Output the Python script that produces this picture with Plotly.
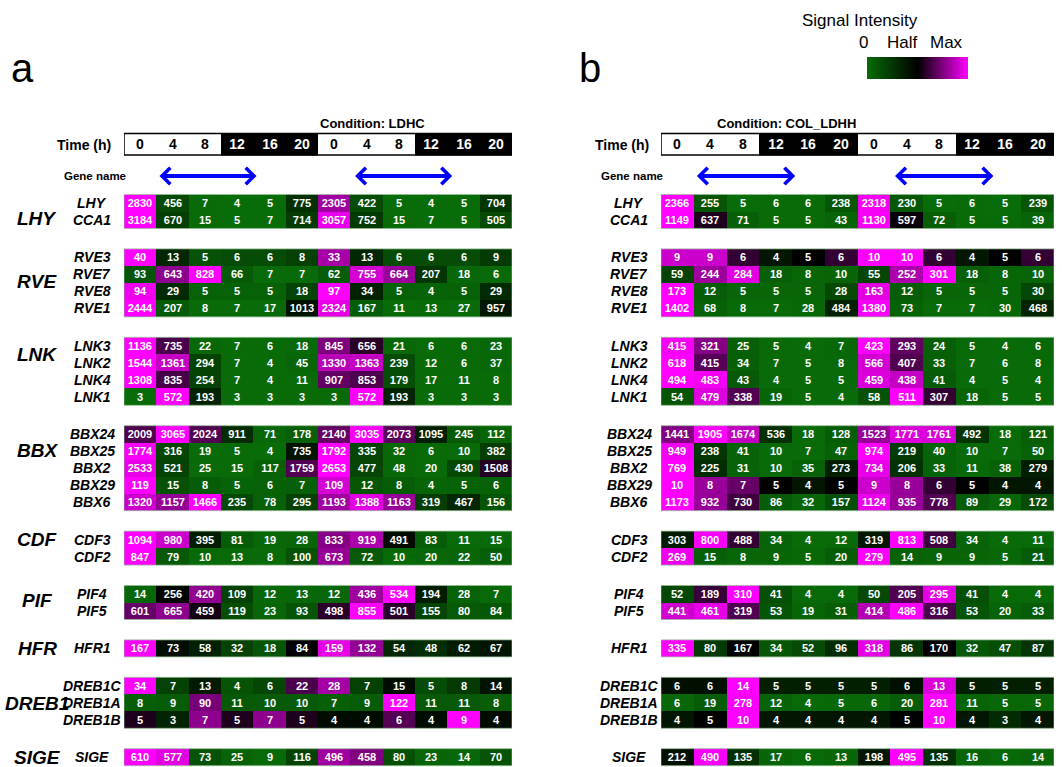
import plotly.graph_objects as go

W, H = 1062, 767
FONT = "Liberation Sans, Arial, Helvetica, sans-serif"

# ---------------- data ----------------
time_labels = ["0", "4", "8", "12", "16", "20", "0", "4", "8", "12", "16", "20"]
dark_phase = [0, 0, 0, 1, 1, 1, 0, 0, 0, 1, 1, 1]

group_names = ["LHY", "RVE", "LNK", "BBX", "CDF", "PIF", "HFR", "DREB1", "SIGE"]

genes_LHY = ["LHY", "CCA1"]
genes_RVE = ["RVE3", "RVE7", "RVE8", "RVE1"]
genes_LNK = ["LNK3", "LNK2", "LNK4", "LNK1"]
genes_BBX = ["BBX24", "BBX25", "BBX2", "BBX29", "BBX6"]
genes_CDF = ["CDF3", "CDF2"]
genes_PIF = ["PIF4", "PIF5"]
genes_HFR = ["HFR1"]
genes_DREB1 = ["DREB1C", "DREB1A", "DREB1B"]
genes_SIGE = ["SIGE"]

# Condition: LDHC (panel a)
ldhc_LHY = [[2830, 456, 7, 4, 5, 775, 2305, 422, 5, 4, 5, 704],
            [3184, 670, 15, 5, 7, 714, 3057, 752, 15, 7, 5, 505]]
ldhc_RVE = [[40, 13, 5, 6, 6, 8, 33, 13, 6, 6, 6, 9],
            [93, 643, 828, 66, 7, 7, 62, 755, 664, 207, 18, 6],
            [94, 29, 5, 5, 5, 18, 97, 34, 5, 4, 5, 29],
            [2444, 207, 8, 7, 17, 1013, 2324, 167, 11, 13, 27, 957]]
ldhc_LNK = [[1136, 735, 22, 7, 6, 18, 845, 656, 21, 6, 6, 23],
            [1544, 1361, 294, 7, 4, 45, 1330, 1363, 239, 12, 6, 37],
            [1308, 835, 254, 7, 4, 11, 907, 853, 179, 17, 11, 8],
            [3, 572, 193, 3, 3, 3, 3, 572, 193, 3, 3, 3]]
ldhc_BBX = [[2009, 3065, 2024, 911, 71, 178, 2140, 3035, 2073, 1095, 245, 112],
            [1774, 316, 19, 5, 4, 735, 1792, 335, 32, 6, 10, 382],
            [2533, 521, 25, 15, 117, 1759, 2653, 477, 48, 20, 430, 1508],
            [119, 15, 8, 5, 6, 7, 109, 12, 8, 4, 5, 6],
            [1320, 1157, 1466, 235, 78, 295, 1193, 1388, 1163, 319, 467, 156]]
ldhc_CDF = [[1094, 980, 395, 81, 19, 28, 833, 919, 491, 83, 11, 15],
            [847, 79, 10, 13, 8, 100, 673, 72, 10, 20, 22, 50]]
ldhc_PIF = [[14, 256, 420, 109, 12, 13, 12, 436, 534, 194, 28, 7],
            [601, 665, 459, 119, 23, 93, 498, 855, 501, 155, 80, 84]]
ldhc_HFR = [[167, 73, 58, 32, 18, 84, 159, 132, 54, 48, 62, 67]]
ldhc_DREB1 = [[34, 7, 13, 4, 6, 22, 28, 7, 15, 5, 8, 14],
              [8, 9, 90, 11, 10, 10, 7, 9, 122, 11, 11, 8],
              [5, 3, 7, 5, 7, 5, 4, 4, 6, 4, 9, 4]]
ldhc_SIGE = [[610, 577, 73, 25, 9, 116, 496, 458, 80, 23, 14, 70]]

# Condition: COL_LDHH (panel b)
colldhh_LHY = [[2366, 255, 5, 6, 6, 238, 2318, 230, 5, 6, 5, 239],
               [1149, 637, 71, 5, 5, 43, 1130, 597, 72, 5, 5, 39]]
colldhh_RVE = [[9, 9, 6, 4, 5, 6, 10, 10, 6, 4, 5, 6],
               [59, 244, 284, 18, 8, 10, 55, 252, 301, 18, 8, 10],
               [173, 12, 5, 5, 5, 28, 163, 12, 5, 5, 5, 30],
               [1402, 68, 8, 7, 28, 484, 1380, 73, 7, 7, 30, 468]]
colldhh_LNK = [[415, 321, 25, 5, 4, 7, 423, 293, 24, 5, 4, 6],
               [618, 415, 34, 7, 5, 8, 566, 407, 33, 7, 6, 8],
               [494, 483, 43, 4, 5, 5, 459, 438, 41, 4, 5, 4],
               [54, 479, 338, 19, 5, 4, 58, 511, 307, 18, 5, 5]]
colldhh_BBX = [[1441, 1905, 1674, 536, 18, 128, 1523, 1771, 1761, 492, 18, 121],
               [949, 238, 41, 10, 7, 47, 974, 219, 40, 10, 7, 50],
               [769, 225, 31, 10, 35, 273, 734, 206, 33, 11, 38, 279],
               [10, 8, 7, 5, 4, 5, 9, 8, 6, 5, 4, 4],
               [1173, 932, 730, 86, 32, 157, 1124, 935, 778, 89, 29, 172]]
colldhh_CDF = [[303, 800, 488, 34, 4, 12, 319, 813, 508, 34, 4, 11],
               [269, 15, 8, 9, 5, 20, 279, 14, 9, 9, 5, 21]]
colldhh_PIF = [[52, 189, 310, 41, 4, 4, 50, 205, 295, 41, 4, 4],
               [441, 461, 319, 53, 19, 31, 414, 486, 316, 53, 20, 33]]
colldhh_HFR = [[335, 80, 167, 34, 52, 96, 318, 86, 170, 32, 47, 87]]
colldhh_DREB1 = [[6, 6, 14, 5, 5, 5, 5, 6, 13, 5, 5, 5],
                 [6, 19, 278, 12, 4, 5, 6, 20, 281, 11, 5, 5],
                 [4, 5, 10, 4, 4, 4, 4, 5, 10, 4, 3, 4]]
colldhh_SIGE = [[212, 490, 135, 17, 6, 13, 198, 495, 135, 16, 6, 14]]

genes = [genes_LHY, genes_RVE, genes_LNK, genes_BBX, genes_CDF, genes_PIF,
         genes_HFR, genes_DREB1, genes_SIGE]
ldhc = [ldhc_LHY, ldhc_RVE, ldhc_LNK, ldhc_BBX, ldhc_CDF, ldhc_PIF,
        ldhc_HFR, ldhc_DREB1, ldhc_SIGE]
colldhh = [colldhh_LHY, colldhh_RVE, colldhh_LNK, colldhh_BBX, colldhh_CDF,
           colldhh_PIF, colldhh_HFR, colldhh_DREB1, colldhh_SIGE]

# ---------------- layout constants (pixels) ----------------
ROW_H = 17
GROUP_GAP = 20.4
FIRST_ROW_Y = 203
HEADER_Y0, HEADER_Y1 = 133.5, 155
GENE_NAME_Y = 176
LABEL_OFFSET = {"LHY": 0.9, "RVE": 1.4, "LNK": 0.5, "BBX": 0.95, "CDF": 0,
                "PIF": 0.4, "HFR": 0, "DREB1": 1.05, "SIGE": 0}
PANELS = [
    dict(xa="x", dom=(124, 512), title="Condition: LDHC", data=ldhc,
         gene_cx=92, time_right=113, letter="a", letter_x=22, group_labels=True),
    dict(xa="x2", dom=(661, 1054), title="Condition: COL_LDHH", data=colldhh,
         gene_cx=629, time_right=651, letter="b", letter_x=590, group_labels=False),
]
ARROWS = [(0.55, 3.6), (6.6, 9.65)]

GREEN = "rgb(8,108,8)"
CS = [[0.0, GREEN], [0.5, "rgb(0,0,0)"], [1.0, "rgb(255,0,255)"]]

fig = go.Figure()
annotations = []
shapes = []

# y positions of each group
group_y0 = []
cursor = FIRST_ROW_Y
for g in genes:
    group_y0.append(cursor)
    cursor += len(g) * ROW_H + GROUP_GAP

first_scale = True
for p in PANELS:
    xa = p["xa"]
    xref = xa
    # header row (light phase: white cells / black text; dark phase: black cells / white text)
    for phase, fill, tcol in [(0, "white", "black"), (1, "black", "white")]:
        zrow = [1 if d == phase else None for d in dark_phase]
        trow = [t if d == phase else "" for t, d in zip(time_labels, dark_phase)]
        fig.add_trace(go.Heatmap(
            z=[zrow], text=[trow], texttemplate="%{text}",
            textfont=dict(family=FONT, size=14, weight="bold", color=tcol),
            x0=0, dx=1, y0=(HEADER_Y0 + HEADER_Y1) / 2, dy=HEADER_Y1 - HEADER_Y0,
            colorscale=[[0, fill], [1, fill]], zmin=0, zmax=1,
            showscale=False, hoverinfo="skip", xaxis=xa, yaxis="y"))
    shapes.append(dict(type="rect", xref=xref, yref="y", x0=-0.5, x1=11.5,
                       y0=HEADER_Y0, y1=HEADER_Y1, line=dict(color="black", width=1.5)))
    # data blocks
    for gi, (gname, gl) in enumerate(zip(group_names, genes)):
        vals = p["data"][gi]
        z = [[v / max(row) for v in row] for row in vals]
        y0 = group_y0[gi]
        tr = go.Heatmap(
            z=z, text=vals, texttemplate="%{text}",
            textfont=dict(family=FONT, size=11, color="white", weight="bold"),
            x0=0, dx=1, y0=y0, dy=ROW_H, colorscale=CS, zmin=0, zmax=1,
            hoverinfo="skip", xaxis=xa, yaxis="y", showscale=first_scale)
        if first_scale:
            tr.colorbar = dict(orientation="h", x=917.5 / W, xanchor="center",
                               y=1 - 57 / H, yanchor="top", len=101, lenmode="pixels",
                               thickness=22, thicknessmode="pixels",
                               showticklabels=False, ticks="", outlinewidth=0,
                               xpad=0, ypad=0)
            first_scale = False
        fig.add_trace(tr)
        shapes.append(dict(type="rect", xref=xref, yref="y", x0=-0.5, x1=11.5,
                           y0=y0 - ROW_H / 2, y1=y0 + ROW_H * (len(gl) - 0.5),
                           line=dict(color="rgba(150,190,150,0.7)", width=1)))
        for ri, gene in enumerate(gl):
            annotations.append(dict(
                x=p["gene_cx"] / W, xref="paper", y=y0 + ri * ROW_H, yref="y",
                text=gene, showarrow=False, xanchor="center", yanchor="middle",
                font=dict(family=FONT, size=14, color="black", weight="bold",
                          style="italic")))
        if p["group_labels"]:
            annotations.append(dict(
                x=37 / W, xref="paper", y=y0 + LABEL_OFFSET[gname] * ROW_H, yref="y",
                text=gname, showarrow=False, xanchor="center", yanchor="middle",
                font=dict(family=FONT, size=19, color="black", weight="bold",
                          style="italic")))
    # header texts
    cx = (p["dom"][0] + p["dom"][1]) / 2
    annotations.append(dict(x=cx / W, xref="paper", y=123, yref="y",
                            text=p["title"], showarrow=False, yanchor="middle",
                            font=dict(family=FONT, size=13, color="black", weight="bold")))
    annotations.append(dict(x=p["time_right"] / W, xref="paper", y=144.5, yref="y",
                            text="Time (h)", showarrow=False, xanchor="right",
                            yanchor="middle",
                            font=dict(family=FONT, size=14, color="black", weight="bold")))
    annotations.append(dict(x=(p["dom"][0] - 62) / W, xref="paper", y=GENE_NAME_Y,
                            yref="y", text="Gene name", showarrow=False,
                            xanchor="left", yanchor="middle",
                            font=dict(family=FONT, size=11.5, color="black", weight="bold")))
    for a0, a1 in ARROWS:
        annotations.append(dict(x=a1, y=GENE_NAME_Y, xref=xref, yref="y",
                                ax=a0, ay=GENE_NAME_Y, axref=xref, ayref="y",
                                text="", showarrow=True, arrowhead=4, startarrowhead=4,
                                arrowside="end+start", arrowwidth=4, arrowsize=0.8,
                                startarrowsize=0.8, arrowcolor="#0000ff",
                                standoff=0, startstandoff=0))
    annotations.append(dict(x=p["letter_x"] / W, xref="paper", y=68, yref="y",
                            text=p["letter"], showarrow=False, xanchor="center",
                            yanchor="middle",
                            font=dict(family=FONT, size=40, color="black")))

# legend texts
annotations.append(dict(x=920 / W, xref="paper", y=20, yref="y", text="Signal Intensity",
                        showarrow=False, yanchor="middle",
                        font=dict(family=FONT, size=17, color="black")))
for t, xx in [("0", 870), ("Half", 920), ("Max", 965)]:
    annotations.append(dict(x=xx / W, xref="paper", y=42, yref="y", text=t,
                            showarrow=False, yanchor="middle",
                            font=dict(family=FONT, size=17, color="black")))

fig.update_layout(
    width=W, height=H, margin=dict(l=0, r=0, t=0, b=0, autoexpand=False),
    paper_bgcolor="white", plot_bgcolor="white",
    xaxis=dict(domain=[PANELS[0]["dom"][0] / W, PANELS[0]["dom"][1] / W],
               range=[-0.5, 11.5], visible=False, fixedrange=True),
    xaxis2=dict(domain=[PANELS[1]["dom"][0] / W, PANELS[1]["dom"][1] / W],
                range=[-0.5, 11.5], visible=False, fixedrange=True, anchor="y"),
    yaxis=dict(domain=[0, 1], range=[H, 0], visible=False, fixedrange=True),
    annotations=annotations, shapes=shapes, showlegend=False,
)

fig.write_html(
    "out.html",
    config={"displayModeBar": False},
    post_script="document.body.style.margin='0';document.body.style.overflow='hidden';",
)
